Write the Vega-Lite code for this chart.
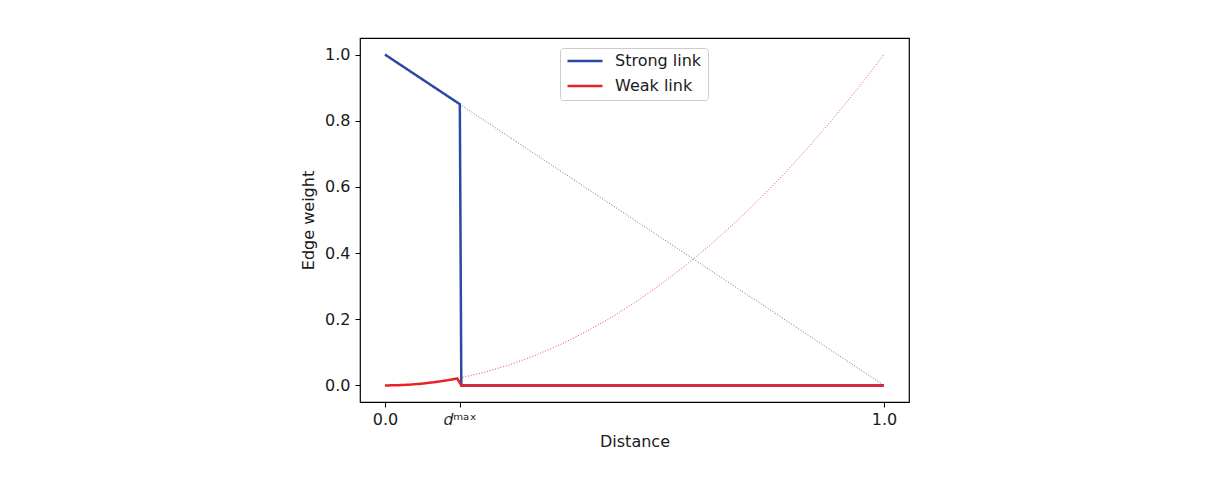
{
  "$schema": "https://vega.github.io/schema/vega-lite/v6.json",
  "width": 549,
  "height": 364,
  "autosize": "none",
  "padding": {"left": 360, "top": 38, "right": 297, "bottom": 85},
  "config": {
    "font": "DejaVu Sans",
    "view": {"stroke": "#000000", "strokeWidth": 1.2},
    "axis": {
      "domain": false,
      "grid": false,
      "tickColor": "#000000",
      "tickSize": 5,
      "tickWidth": 1,
      "labelFont": "DejaVu Sans",
      "labelFontSize": 16,
      "labelColor": "#1a1a1a",
      "titleFont": "DejaVu Sans",
      "titleFontSize": 16,
      "titleFontWeight": "normal",
      "titleColor": "#1a1a1a"
    }
  },
  "data": {
    "values": [
      {"series": "Strong link", "part": "solid", "x": 0, "y": 1},
      {"series": "Strong link", "part": "solid", "x": 0.15, "y": 0.85},
      {"series": "Strong link", "part": "solid", "x": 0.153, "y": 0},
      {"series": "Strong link", "part": "solid", "x": 1, "y": 0},
      {"series": "Weak link", "part": "solid", "x": 0, "y": 0},
      {"series": "Weak link", "part": "solid", "x": 0.025, "y": 0.000625},
      {"series": "Weak link", "part": "solid", "x": 0.05, "y": 0.0025},
      {"series": "Weak link", "part": "solid", "x": 0.075, "y": 0.005625},
      {"series": "Weak link", "part": "solid", "x": 0.1, "y": 0.01},
      {"series": "Weak link", "part": "solid", "x": 0.125, "y": 0.015625},
      {"series": "Weak link", "part": "solid", "x": 0.145, "y": 0.021},
      {"series": "Weak link", "part": "solid", "x": 0.153, "y": 0},
      {"series": "Weak link", "part": "solid", "x": 1, "y": 0},
      {"series": "Strong link", "part": "dotted", "x": 0.15, "y": 0.85},
      {"series": "Strong link", "part": "dotted", "x": 1, "y": 0},
      {"series": "Weak link", "part": "dotted", "x": 0.15, "y": 0.0225},
      {"series": "Weak link", "part": "dotted", "x": 0.2, "y": 0.04},
      {"series": "Weak link", "part": "dotted", "x": 0.25, "y": 0.0625},
      {"series": "Weak link", "part": "dotted", "x": 0.3, "y": 0.09},
      {"series": "Weak link", "part": "dotted", "x": 0.35, "y": 0.1225},
      {"series": "Weak link", "part": "dotted", "x": 0.4, "y": 0.16},
      {"series": "Weak link", "part": "dotted", "x": 0.45, "y": 0.2025},
      {"series": "Weak link", "part": "dotted", "x": 0.5, "y": 0.25},
      {"series": "Weak link", "part": "dotted", "x": 0.55, "y": 0.3025},
      {"series": "Weak link", "part": "dotted", "x": 0.6, "y": 0.36},
      {"series": "Weak link", "part": "dotted", "x": 0.65, "y": 0.4225},
      {"series": "Weak link", "part": "dotted", "x": 0.7, "y": 0.49},
      {"series": "Weak link", "part": "dotted", "x": 0.75, "y": 0.5625},
      {"series": "Weak link", "part": "dotted", "x": 0.8, "y": 0.64},
      {"series": "Weak link", "part": "dotted", "x": 0.85, "y": 0.7225},
      {"series": "Weak link", "part": "dotted", "x": 0.9, "y": 0.81},
      {"series": "Weak link", "part": "dotted", "x": 0.95, "y": 0.9025},
      {"series": "Weak link", "part": "dotted", "x": 1, "y": 1}
    ]
  },
  "mark": {"type": "line", "strokeCap": "butt", "strokeJoin": "miter"},
  "encoding": {
    "x": {
      "field": "x",
      "type": "quantitative",
      "scale": {"domain": [-0.05, 1.05], "nice": false, "zero": false},
      "axis": {
        "title": "Distance",
        "values": [0, 0.15, 1],
        "labelExpr": "datum.value == 0.15 ? '𝑑ᵐᵃˣ' : format(datum.value, '.1f')",
        "labelPadding": 4,
        "titlePadding": 6
      }
    },
    "y": {
      "field": "y",
      "type": "quantitative",
      "scale": {"domain": [-0.05, 1.05], "nice": false, "zero": false},
      "axis": {
        "title": "Edge weight",
        "values": [0, 0.2, 0.4, 0.6, 0.8, 1.0],
        "format": ".1f",
        "labelPadding": 5,
        "titlePadding": 8
      }
    },
    "color": {
      "field": "series",
      "type": "nominal",
      "scale": {"domain": ["Strong link", "Weak link"], "range": ["#2a4ba3", "#e8202a"]},
      "legend": {
        "title": null,
        "orient": "none",
        "legendX": 200,
        "legendY": 10,
        "symbolType": "stroke",
        "symbolSize": 1225,
        "symbolStrokeWidth": 2.4,
        "symbolDash": [],
        "labelFontSize": 16,
        "labelColor": "#1a1a1a",
        "labelOffset": 11,
        "clipHeight": 14,
        "rowPadding": 9,
        "padding": 6,
        "strokeColor": "#cccccc",
        "fillColor": "#ffffff",
        "cornerRadius": 3
      }
    },
    "strokeDash": {
      "field": "part",
      "type": "nominal",
      "scale": {"domain": ["solid", "dotted"], "range": [[1, 0], [1, 1.8]]},
      "legend": null
    },
    "strokeWidth": {
      "field": "part",
      "type": "nominal",
      "scale": {"domain": ["solid", "dotted"], "range": [2.5, 0.8]},
      "legend": null
    },
    "order": {"field": "x", "type": "quantitative"}
  }
}
